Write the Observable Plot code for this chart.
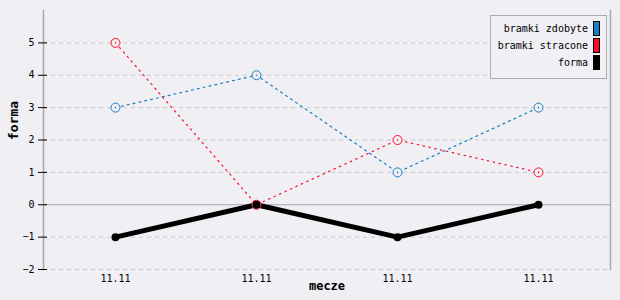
<!DOCTYPE html>
<html>
<head>
<meta charset="utf-8">
<script src="https://cdn.jsdelivr.net/npm/d3@7"></script>
<script src="https://cdn.jsdelivr.net/npm/@observablehq/plot@0.6"></script>
<style>
  html, body { margin: 0; padding: 0; background: #efeff4; }
  #wrap { position: relative; width: 620px; height: 300px; }
  #legend {
    position: absolute; left: 490px; top: 15px; width: 115px; height: 62px;
    border: 1px solid #aaa; background: #efeff4;
    font-family: "DejaVu Sans Mono", monospace; font-size: 10px; color: #000;
  }
  .row { position: absolute; right: 6px; height: 15px; display: flex; align-items: center; }
  .row span.sw { display: inline-block; width: 5px; height: 13px; border: 1px solid #000; margin-left: 5px; }
</style>
</head>
<body>
<div id="wrap"></div>
<script>
const matchIdx = [0, 1, 2, 3];
const matchLabels = ["11.11", "11.11", "11.11", "11.11"];
const goalsFor = [3, 4, 1, 3];
const goalsAgainst = [5, 0, 2, 1];
const form = [-1, 0, -1, 0];
const yTicks = [-2, -1, 0, 1, 2, 3, 4, 5];

const seriesNames = ["bramki zdobyte", "bramki stracone", "forma"];
const seriesColors = ["#1a80c0", "#ff0a2a", "#000000"];

const rowsFor = matchIdx.map((m, i) => ({m, v: goalsFor[i]}));
const rowsAgainst = matchIdx.map((m, i) => ({m, v: goalsAgainst[i]}));
const rowsForm = matchIdx.map((m, i) => ({m, v: form[i]}));

const font = "DejaVu Sans Mono, monospace";

const chart = Plot.plot({
  width: 620,
  height: 300,
  marginLeft: 43,
  marginRight: 10,
  marginTop: 10,
  marginBottom: 31,
  style: {background: "#efeff4", fontFamily: font, fontSize: "10px", color: "#000"},
  x: {type: "point", domain: matchIdx, padding: 0.5},
  y: {domain: [-2, 6]},
  marks: [
    Plot.ruleY(yTicks.filter(d => d !== 0), {stroke: "#c8c8cc", strokeDasharray: "4,4", strokeWidth: 1}),
    Plot.ruleY([0], {stroke: "#a8a8a8", strokeWidth: 1.2}),
    Plot.frame({anchor: "left", stroke: "#a8a8a8", strokeWidth: 1.5}),
    Plot.frame({anchor: "right", stroke: "#a8a8a8", strokeWidth: 1.5}),
    Plot.axisY({ticks: yTicks, tickSize: 9, dx: 4, tickPadding: 4, label: null, fontSize: 10, fontFamily: font, stroke: "#000"}),
    Plot.axisX({ticks: matchIdx, tickSize: 0, tickPadding: 5, tickFormat: i => matchLabels[i], label: null, fontSize: 10, fontFamily: font}),
    Plot.text(["forma"], {frameAnchor: "left", dx: -30, rotate: -90, fontWeight: "bold", fontSize: 13, fontFamily: font}),
    Plot.text(["mecze"], {frameAnchor: "bottom", dy: 20, fontWeight: "bold", fontSize: 12, fontFamily: font}),
    Plot.line(rowsFor, {x: "m", y: "v", stroke: seriesColors[0], strokeWidth: 1.2, strokeDasharray: "2,4"}),
    Plot.line(rowsAgainst, {x: "m", y: "v", stroke: seriesColors[1], strokeWidth: 1.2, strokeDasharray: "1.5,4.5"}),
    Plot.line(rowsForm, {x: "m", y: "v", stroke: seriesColors[2], strokeWidth: 5}),
    Plot.dot(rowsFor, {x: "m", y: "v", r: 4.5, stroke: seriesColors[0], fill: "#efeff4", strokeWidth: 1}),
    Plot.dot(rowsFor, {x: "m", y: "v", r: 0.8, fill: seriesColors[0]}),
    Plot.dot(rowsAgainst, {x: "m", y: "v", r: 4.5, stroke: seriesColors[1], fill: "#efeff4", strokeWidth: 1}),
    Plot.dot(rowsAgainst, {x: "m", y: "v", r: 0.8, fill: seriesColors[1]}),
    Plot.dot(rowsForm, {x: "m", y: "v", r: 4, fill: seriesColors[2]})
  ]
});

const wrap = document.getElementById("wrap");
wrap.appendChild(chart);

const legend = document.createElement("div");
legend.id = "legend";
seriesNames.forEach((name, i) => {
  const row = document.createElement("div");
  row.className = "row";
  row.style.top = (5 + i * 17) + "px";
  const t = document.createElement("span");
  t.textContent = name;
  const sw = document.createElement("span");
  sw.className = "sw";
  sw.style.background = seriesColors[i];
  row.appendChild(t);
  row.appendChild(sw);
  legend.appendChild(row);
});
wrap.appendChild(legend);
</script>
</body>
</html>
